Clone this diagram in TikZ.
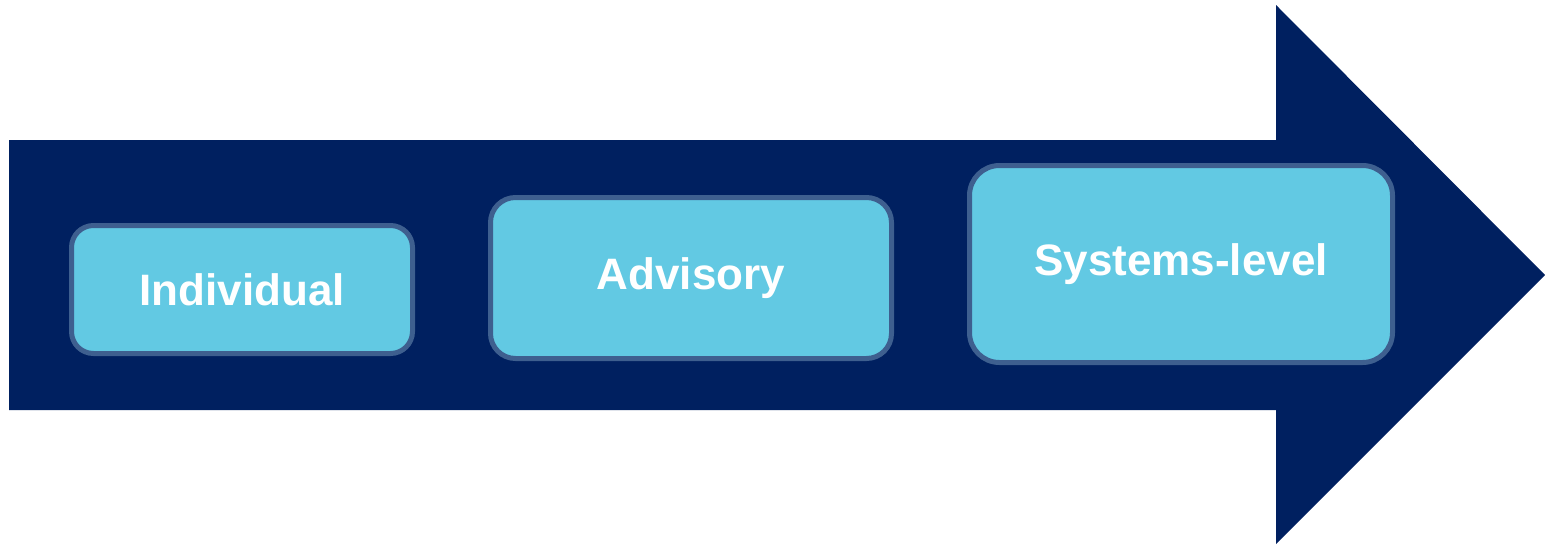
\documentclass[tikz,border=0pt]{standalone}
\usepackage{fontspec}
\setmainfont{Liberation Sans}
\definecolor{navy}{HTML}{002060}
\definecolor{boxfill}{HTML}{62C9E3}
\definecolor{boxline}{HTML}{3E5F8F}
\tikzset{
  stage/.style={draw=boxline, line width=5pt, fill=boxfill, text=white,
    font=\fontsize{44}{50}\selectfont\bfseries, inner sep=0pt},
}
\begin{document}
\begin{tikzpicture}[x=1pt,y=-1pt]
\useasboundingbox (0,0) rectangle (1545,544);
\fill[navy] (9,140) -- (1276,140) -- (1276,5) -- (1545,275) -- (1276,544) -- (1276,410) -- (9,410) -- cycle;
\node[stage, rounded corners=22pt, minimum width=341pt, minimum height=128pt] (ind) at (242,289.5) {Individual};
\node[stage, rounded corners=25pt, minimum width=401pt, minimum height=161pt] (adv) at (691,278) {Advisory};
\node[stage, rounded corners=30pt, minimum width=423pt, minimum height=197pt] (sys) at (1181,264) {Systems-level};
\end{tikzpicture}
\end{document}
